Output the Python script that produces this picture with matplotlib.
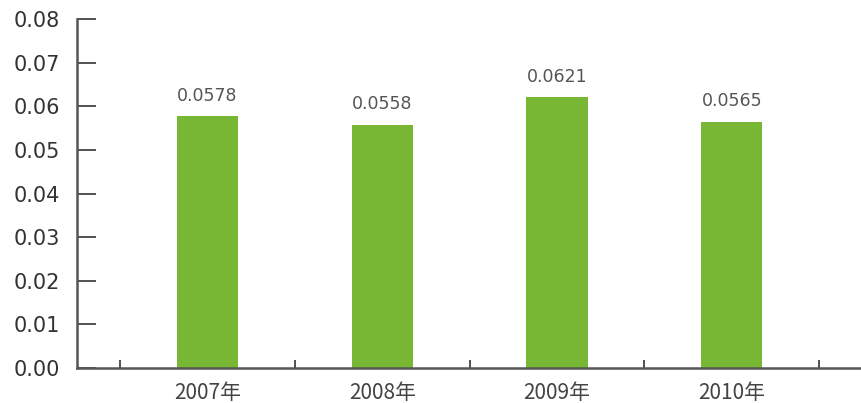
import matplotlib.pyplot as plt
import numpy as np

plt.rcParams['font.family'] = ['DejaVu Sans', 'Noto Sans CJK JP']

years = ["2007年", "2008年", "2009年", "2010年"]
values = [0.0578, 0.0558, 0.0621, 0.0565]
value_labels = ["0.0578", "0.0558", "0.0621", "0.0565"]

BAR_COLOR = "#77b733"
AXIS_COLOR = "#555555"

fig = plt.figure(figsize=(8.61, 4.03), dpi=100)
ax = fig.add_axes([77 / 861, 35 / 403, 1 - 77 / 861, 349 / 403])

x = np.arange(len(years))
bars = ax.bar(x, values, width=0.35, color=BAR_COLOR)

for xi, v, lab in zip(x, values, value_labels):
    ax.annotate(lab, (xi, v), xytext=(0, 8), textcoords="offset points",
                ha="center", va="bottom", fontsize=12.5, color="#555555")

ax.set_xlim(-0.747, 3.74)
ax.set_ylim(0, 0.08)
ax.set_yticks(np.arange(0, 0.081, 0.01))
ax.set_yticklabels([f"{t:.2f}" for t in np.arange(0, 0.081, 0.01)])

ax.set_xticks(x)
ax.set_xticklabels(years, family=['Noto Sans CJK JP', 'DejaVu Sans'])
ax.set_xticks(np.arange(-0.5, 4, 1.0), minor=True)

ax.tick_params(axis="y", direction="in", length=14, width=1.2, color="#333333",
               labelsize=15, labelcolor="#333333", pad=12)
ax.tick_params(axis="x", which="major", length=0, labelsize=15,
               labelcolor="#444444", pad=10)
ax.tick_params(axis="x", which="minor", direction="in", length=6, width=1.2,
               color="#333333")

for side in ["top", "right"]:
    ax.spines[side].set_visible(False)
for side in ["left", "bottom"]:
    ax.spines[side].set_color(AXIS_COLOR)
    ax.spines[side].set_linewidth(1.8)

fig.savefig("out.png", dpi=100)
